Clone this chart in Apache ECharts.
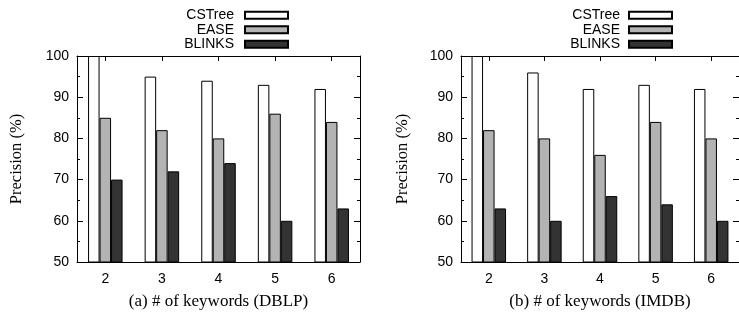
<!DOCTYPE html>
<html>
<head>
<meta charset="utf-8">
<script src="https://cdn.jsdelivr.net/npm/echarts@6/dist/echarts.min.js"></script>
<style>
  html, body { margin: 0; padding: 0; background: #fff; }
  #chart { width: 739px; height: 318px; }
</style>
</head>
<body>
<div id="chart"></div>
<script>
const keywords = ['2', '3', '4', '5', '6']
const seriesNames = ['CSTree', 'EASE', 'BLINKS']

// (a) DBLP
const dblpCSTree = [100, 95, 94, 93, 92]
const dblpEASE = [85, 82, 80, 86, 84]
const dblpBLINKS = [70, 72, 74, 60, 63]

// (b) IMDB
const imdbCSTree = [100, 96, 92, 93, 92]
const imdbEASE = [82, 80, 76, 84, 80]
const imdbBLINKS = [63, 60, 66, 64, 60]

const panelTitles = ['(a) # of keywords (DBLP)', '(b) # of keywords (IMDB)']
const barColors = ['#ffffff', '#b3b3b3', '#333333']

const sans = 'Liberation Sans'
const serif = 'Liberation Serif'
const black = '#000'

const chart = echarts.init(document.getElementById('chart'))

const grids = [
  { left: 77, right: 379, top: 56, bottom: 56 },
  { left: 461, right: -4, top: 56, bottom: 56 }
]

const xAxes = []
const yAxes = []
grids.forEach((g, i) => {
  // bottom axis with labels
  xAxes.push({
    type: 'category',
    gridIndex: i,
    data: keywords,
    position: 'bottom',
    axisLine: { lineStyle: { color: black, width: 1 } },
    axisTick: { show: false },
    axisLabel: { color: black, fontFamily: sans, fontSize: 14, margin: 10 },
    name: panelTitles[i],
    nameLocation: 'middle',
    nameGap: 31,
    nameTextStyle: { color: black, fontFamily: serif, fontSize: 17 }
  })
  // top mirror axis
  xAxes.push({
    type: 'category',
    gridIndex: i,
    data: keywords,
    position: 'top',
    axisLine: { lineStyle: { color: black, width: 1 } },
    axisTick: { show: true, inside: true, alignWithLabel: true, length: 5, lineStyle: { color: black } },
    axisLabel: { show: false }
  })
  yAxes.push({
    type: 'value',
    gridIndex: i,
    min: 50,
    max: 100,
    interval: 10,
    position: 'left',
    axisLine: { show: true, lineStyle: { color: black, width: 1 } },
    axisTick: { show: true, inside: true, length: 6, lineStyle: { color: black } },
    minorTick: { show: true, splitNumber: 2, length: 3, lineStyle: { color: black } },
    splitLine: { show: false },
    axisLabel: { color: black, fontFamily: sans, fontSize: 14, margin: 8 },
    name: 'Precision (%)',
    nameLocation: 'middle',
    nameGap: i === 0 ? 52 : 50,
    nameTextStyle: { color: black, fontFamily: serif, fontSize: 16.5 }
  })
  yAxes.push({
    type: 'value',
    gridIndex: i,
    min: 50,
    max: 100,
    interval: 10,
    position: 'right',
    axisLine: { show: true, lineStyle: { color: black, width: 1 } },
    axisTick: { show: true, inside: true, length: 6, lineStyle: { color: black } },
    minorTick: { show: true, splitNumber: 2, length: 3, lineStyle: { color: black } },
    splitLine: { show: false },
    axisLabel: { show: false }
  })
})

const panelData = [
  [dblpCSTree, dblpEASE, dblpBLINKS],
  [imdbCSTree, imdbEASE, imdbBLINKS]
]

const series = []
panelData.forEach((sets, i) => {
  sets.forEach((vals, j) => {
    series.push({
      name: seriesNames[j],
      type: 'bar',
      xAxisIndex: i * 2,
      yAxisIndex: i * 2,
      data: vals,
      barWidth: 11.5,
      barGap: '0%',
      itemStyle: { color: barColors[j], borderColor: black, borderWidth: 1 },
      emphasis: { disabled: true }
    })
  })
})

const legendBase = {
  orient: 'vertical',
  align: 'right',
  top: 3,
  itemWidth: 43,
  itemHeight: 7,
  itemGap: 0,
  icon: 'rect',
  selectedMode: false,
  data: seriesNames,
  textStyle: { color: black, fontFamily: sans, fontSize: 14, lineHeight: 14.5, padding: [0, 6, 0, 0] }
}

const option = {
  animation: false,
  backgroundColor: '#fff',
  legend: [
    Object.assign({}, legendBase, { right: 445 }),
    Object.assign({}, legendBase, { right: 61, textStyle: Object.assign({}, legendBase.textStyle, { padding: [0, 4, 0, 0] }) })
  ],
  grid: grids,
  xAxis: xAxes,
  yAxis: yAxes,
  series: series
}

chart.setOption(option)
</script>
</body>
</html>
